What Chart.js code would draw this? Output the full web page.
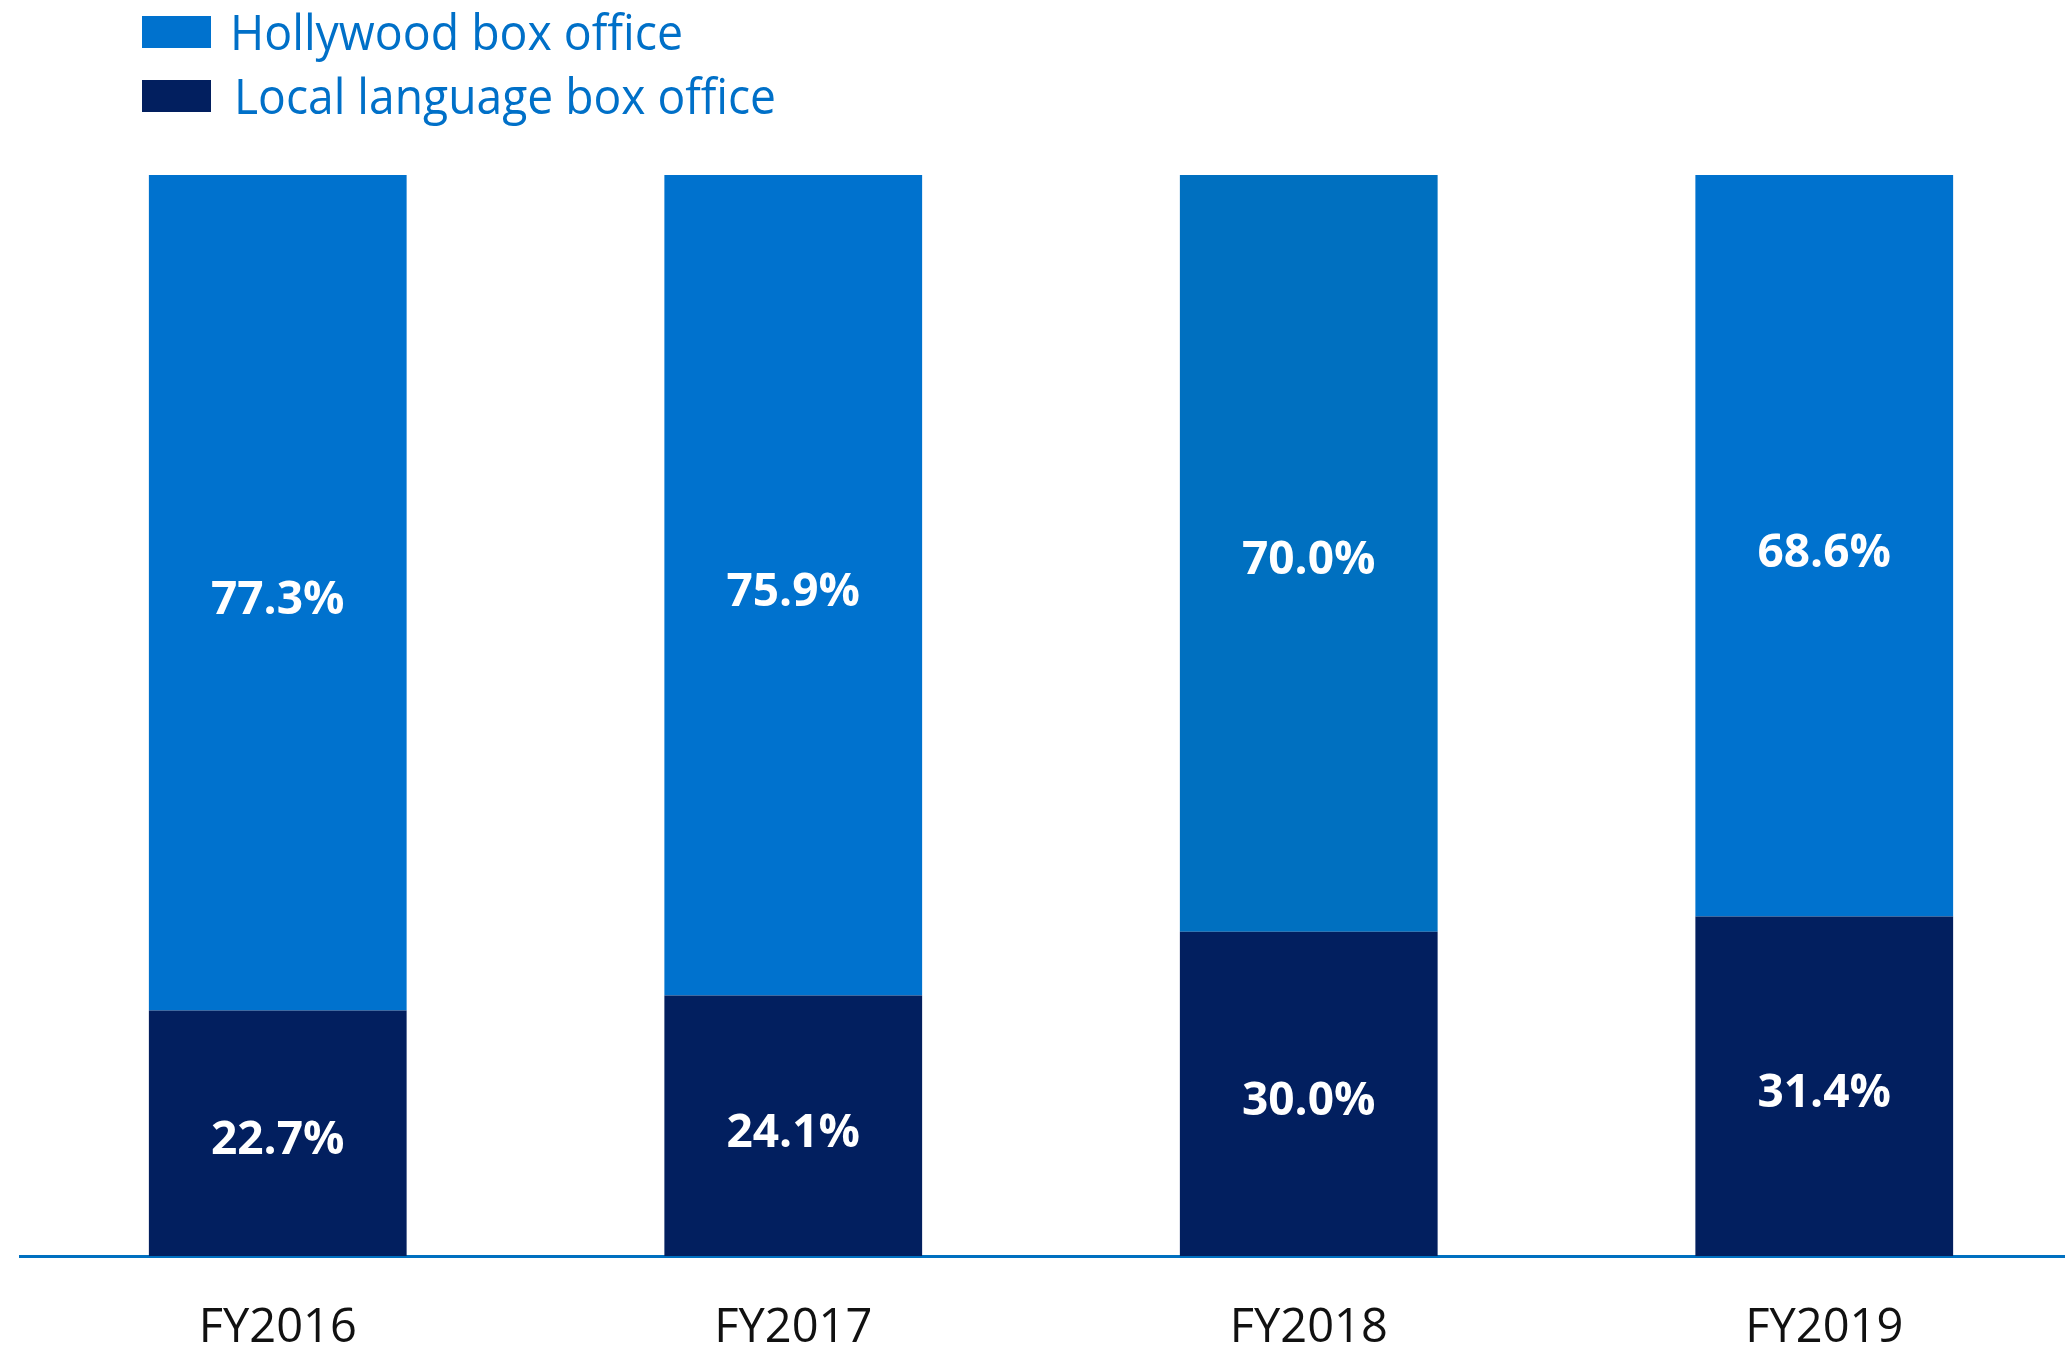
<!DOCTYPE html>
<html>
<head>
<meta charset="utf-8">
<script src="https://cdn.jsdelivr.net/npm/chart.js@4/dist/chart.umd.min.js"></script>
<style>
  html, body { margin: 0; padding: 0; background: #fff; overflow: hidden; }
  #wrap { width: 2082px; height: 1352px; position: relative; }
</style>
</head>
<body>
<div id="wrap"><canvas id="grafico"></canvas></div>
<script>
const anos = ['FY2016', 'FY2017', 'FY2018', 'FY2019'];
const hollywood = [77.3, 75.9, 70.0, 68.6];
const local = [22.7, 24.1, 30.0, 31.4];
const nomesSeries = ['Hollywood box office', 'Local language box office'];

const azul = ['#0072CE', '#0072CE', '#0070C0', '#0072CE'];
const azulEscuro = '#021F5F';

// legenda desenhada a mao (duas linhas, Hollywood em cima)
const legendaPlugin = {
  id: 'legendaManual',
  afterDraw(chart) {
    const ctx = chart.ctx;
    const itens = [
      { texto: nomesSeries[0], cor: '#0072CE', y: 16, tx: 230, larg: 453 },
      { texto: nomesSeries[1], cor: azulEscuro, y: 80, tx: 234, larg: 542 }
    ];
    ctx.save();
    ctx.font = '50px "Open Sans", sans-serif';
    ctx.textBaseline = 'middle';
    ctx.textAlign = 'left';
    itens.forEach(it => {
      ctx.fillStyle = it.cor;
      ctx.fillRect(142, it.y, 69, 32);
      ctx.fillStyle = '#0070C8';
      ctx.fillText(it.texto, it.tx, it.y + 20, it.larg);
    });
    ctx.restore();
  }
};

// rotulos de valor no meio de cada segmento
const rotulosPlugin = {
  id: 'rotulos',
  afterDatasetsDraw(chart) {
    const ctx = chart.ctx;
    ctx.save();
    ctx.font = 'bold 46px "Open Sans", sans-serif';
    ctx.fillStyle = '#fff';
    ctx.textAlign = 'center';
    ctx.textBaseline = 'middle';
    chart.data.datasets.forEach((ds, i) => {
      chart.getDatasetMeta(i).data.forEach((bar, j) => {
        const p = bar.getProps(['x', 'y', 'base'], true);
        ctx.fillText(ds.data[j].toFixed(1) + '%', p.x, (p.y + p.base) / 2 + 8);
      });
    });
    ctx.restore();
  }
};

const ctx = document.getElementById('grafico').getContext('2d');
new Chart(ctx, {
  type: 'bar',
  data: {
    labels: anos,
    datasets: [
      { label: nomesSeries[1], data: local, backgroundColor: azulEscuro },
      { label: nomesSeries[0], data: hollywood, backgroundColor: azul }
    ]
  },
  options: {
    responsive: true,
    maintainAspectRatio: false,
    animation: false,
    layout: { padding: { top: 175, left: 20, right: 0, bottom: 0 } },
    datasets: { bar: { categoryPercentage: 1, barPercentage: 0.5 } },
    plugins: {
      legend: { display: false },
      tooltip: { enabled: false }
    },
    scales: {
      x: {
        stacked: true,
        grid: { display: false },
        border: { color: '#0070C0', width: 3 },
        ticks: {
          color: '#111',
          padding: 36,
          font: { family: '"Open Sans", sans-serif', size: 47 }
        },
        afterFit(s) { s.height = 1352 - 1256; }
      },
      y: {
        stacked: true,
        display: false,
        min: 0,
        max: 100
      }
    }
  },
  plugins: [legendaPlugin, rotulosPlugin]
});
</script>
</body>
</html>
